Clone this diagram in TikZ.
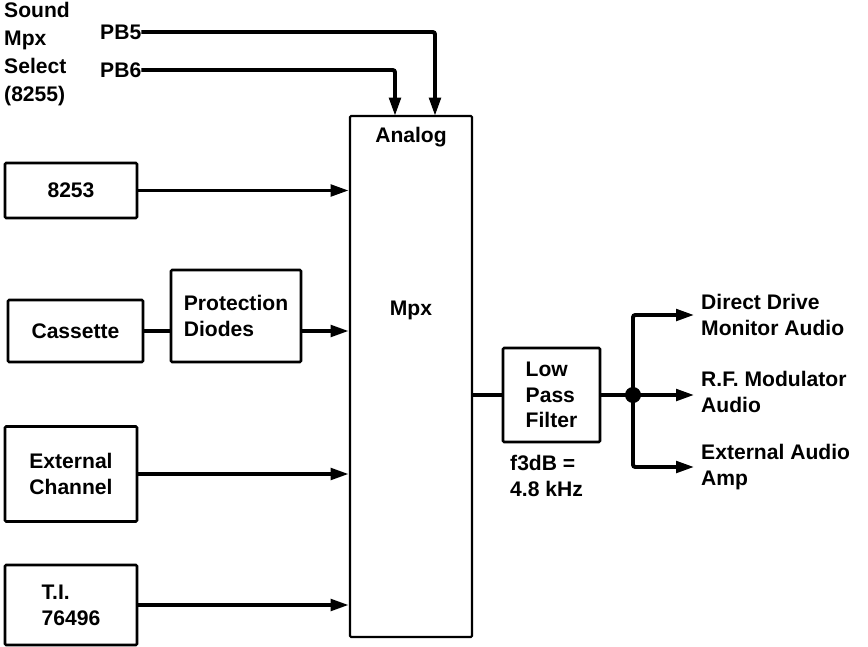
\documentclass[tikz,border=0pt]{standalone}
\usepackage{fontspec}
\setmainfont{Liberation Sans}
\usetikzlibrary{arrows.meta}

\tikzset{
  blk/.style={draw, line width=2.2pt, rounded corners=1pt, align=left, inner sep=0pt},
  wire/.style={line width=3.4pt},
  sig/.style={wire, -{Triangle[length=0.55cm, width=0.34cm]}},
  lbl/.style={anchor=west, align=left, inner sep=0pt}
}

\begin{document}
\begin{tikzpicture}[x=0.03cm, y=-0.03cm, font=\fontsize{18}{22}\selectfont\bfseries]
    \useasboundingbox (0,0) rectangle (868,647);

    % Define positions of the blocks
    \node[blk, minimum width=3.96cm, minimum height=1.65cm] (t8253) at (71,190.5) {8253};
    \node[blk, minimum width=4.05cm, minimum height=1.86cm] (cass) at (75.5,331) {Cassette};
    \node[blk, minimum width=3.9cm, minimum height=2.76cm] (prot) at (236,316) {Protection\\Diodes};
    \node[blk, minimum width=3.96cm, minimum height=2.85cm] (ext) at (71,474) {External\\Channel};
    \node[blk, minimum width=3.96cm, minimum height=2.4cm] (ti) at (71,605) {T.I.\\76496};
    \node[blk, line width=1.8pt, minimum width=3.66cm, minimum height=15.63cm] (mpx) at (411,376.5) {};
    \node[blk, minimum width=2.91cm, minimum height=2.82cm] (lpf) at (551.5,395) {Low\\Pass\\Filter};

    % Texts inside the multiplexer
    \node[inner sep=0pt] (analog) at (411,137) {Analog};
    \node[inner sep=0pt] (mpxtxt) at (411,310) {Mpx};

    % Control inputs from the 8255
    \node[lbl, font=\fontsize{18}{23.8}\selectfont\bfseries] (sel) at (4,54) {Sound\\Mpx\\Select\\(8255)};
    \node[lbl] (pb5) at (100,32) {PB5};
    \node[lbl] (pb6) at (100,70) {PB6};
    \coordinate (in5) at (435,116);
    \coordinate (in6) at (395,116);
    \draw[sig, rounded corners=2pt] (pb5.east) -| (in5);
    \draw[sig, rounded corners=2pt] (pb6.east) -| (in6);

    % Sources into the multiplexer
    \draw[sig] (t8253.east) -- (t8253.east -| mpx.west);
    \draw[wire] (cass.east) -- (cass.east -| prot.west);
    \draw[sig] (cass.east -| prot.east) -- (cass.east -| mpx.west);
    \draw[sig] (ext.east) -- (ext.east -| mpx.west);
    \draw[sig] (ti.east) -- (ti.east -| mpx.west);

    % Multiplexer to filter
    \draw[wire] (lpf.west -| mpx.east) -- (lpf.west);
    \node[lbl] (f3db) at (510,476) {f3dB =\\4.8 kHz};

    % Outputs
    \node[lbl] (dd) at (701,315) {Direct Drive\\Monitor Audio};
    \node[lbl] (rf) at (701,392) {R.F. Modulator\\Audio};
    \node[lbl] (amp) at (701,467) {External Audio\\Amp};
    \coordinate (jn) at (633,395);
    \draw[wire] (lpf.east) -- (jn);
    \fill (jn) circle (0.24cm);
    \draw[sig, rounded corners=2pt, shorten >=0.2cm] (jn) |- (dd.west);
    \draw[sig, shorten >=0.2cm] (jn) -- (jn -| rf.west);
    \draw[sig, rounded corners=2pt, shorten >=0.2cm] (jn) |- (amp.west);
\end{tikzpicture}
\end{document}
